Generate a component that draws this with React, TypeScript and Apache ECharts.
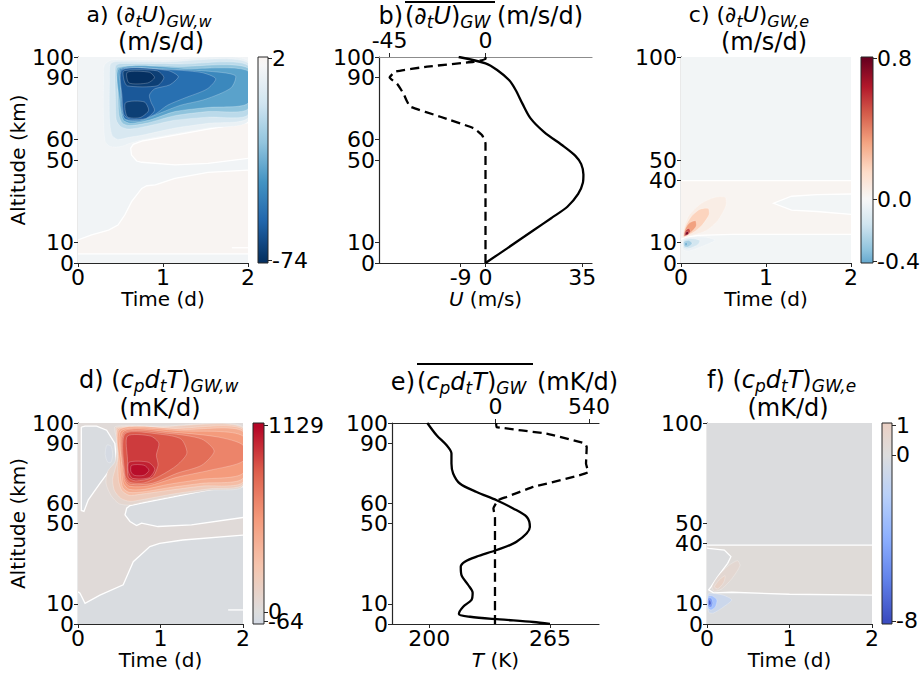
import React, { useEffect, useRef } from "react";
import * as echarts from "echarts";

type Pt = [number, number];
type Region = { v: number | null; pts: Pt[]; kind: "zero" | "level" | "none"; open?: boolean };

const FF = "DejaVu Sans";

// ---------- shared axes ----------
const TIME_RANGE = [0, 2];
const ALT_RANGE = [0, 100];
const TIME_TICKS = [0, 1, 2];
const ALT_TICKS_AB = [0, 10, 50, 60, 90, 100];
const ALT_LABELS_AB_OUTER = [0, 50, 60, 100];
const ALT_LABELS_AB_INNER = [10, 90];
const ALT_TICKS_CF = [0, 10, 40, 50, 100];
const ALT_LABELS_CF_OUTER = [0, 40, 50, 100];
const ALT_LABELS_CF_INNER = [10];

// ---------- panel b: profiles ----------
const B_U_ALT = [0, 7, 16, 22, 27.3, 33.5, 39, 43, 48, 52, 56.5, 63.7, 70.2, 77.5, 84, 88.8, 93.7, 96.9, 100];
const B_U = [0, 7.7, 17.5, 24, 29.6, 33.5, 35.2, 35.4, 34.6, 32.5, 28.4, 21.1, 16.3, 13.3, 10.9, 8.5, 4.2, 0, -9.7];
const B_DU_ALT = [0, 30, 58, 62, 65.4, 71, 75.9, 79, 82, 87, 90, 92.9, 95.3, 97.7, 99, 100];
const B_DU = [0, 0, 0, -1.6, -5.5, -21.2, -35.3, -37.1, -38.4, -41.5, -45, -42.3, -27.4, -5.5, 0, 0];
const B_U_RANGE = [-38.5, 38.5];
const B_DU_RANGE = [-50, 50];
const B_U_TICKS = [-9, 0, 35];
const B_DU_TICKS = [-45, 0];

// ---------- panel e: profiles ----------
const E_T_ALT = [0, 1, 2.3, 3.6, 5, 8.6, 12, 15.5, 19.4, 24.3, 28.5, 31, 33.5, 36.8, 40.9, 48.3, 53.3, 57.5, 61.6, 65.7, 69.9, 74.9, 79.8, 84.8, 88.9, 93.9, 100];
const E_T = [265, 256, 238, 222, 216, 218.3, 222.8, 223.4, 221, 217.4, 217, 219.2, 225.5, 236.3, 247, 254.2, 252.5, 245.2, 236.3, 225.5, 216.5, 212.9, 212, 212, 209.4, 204, 199];
const E_Q_ALT = [0, 30, 53, 57.5, 61.6, 63.2, 68.2, 75.6, 79.8, 88, 89.8, 94.7, 98, 100];
const E_Q = [-3, -3, -3, -12, 15, 64, 218, 536, 523, 527, 517, 295, 6, 4];
const E_T_RANGE = [180, 291.4];
const E_Q_RANGE = [-598, 598];
const E_T_TICKS = [200, 265];
const E_Q_TICKS = [0, 540];

// ---------- panel a: (dU/dt)_GW,w contour regions ----------
const A_BG = -2.5;
const A_POS = 1.5;
const A_PINK_HI: Pt[] = [[0.65, 57.6], [0.75, 59.2], [1.14, 62.1], [1.53, 65.0], [2.0, 68.1], [2.0, 50.8], [1.53, 48.4], [1.14, 47.6], [0.75, 48.9], [0.69, 49.5], [0.63, 52.4], [0.62, 55.7]];
const A_PINK_LO: Pt[] = [[0, 11.2], [0.16, 13.6], [0.36, 16], [0.47, 18.4], [0.55, 23.3], [0.63, 29.8], [0.75, 36.2], [0.81, 37.5], [0.91, 37.9], [1.14, 41.1], [1.53, 44], [2.0, 45.1], [2.0, 4.4], [0, 4.4]];
const A_SMALL: Pt[] = [[1.81, 7.4], [2.0, 7.4]];
const A_LEVELS = [-5, -12, -20, -30, -40, -48, -56, -63, -70, -70, -74];
const A_L0: Pt[] = [[0.31, 96], [0.4, 98.6], [1.0, 98.5], [2.0, 98.2], [2.0, 68.8], [1.53, 65.5], [1.14, 62.7], [0.75, 59.7], [0.62, 58.2], [0.5, 56.5], [0.38, 56.5], [0.32, 59], [0.3, 70], [0.3, 88]];
const A_L1: Pt[] = [[0.38, 96.5], [0.45, 97.8], [1.0, 97.6], [2.0, 97.2], [2.0, 70.5], [1.53, 67.8], [1.14, 65.5], [0.75, 62], [0.6, 61], [0.47, 60], [0.4, 62], [0.37, 70], [0.37, 88]];
const A_L2: Pt[] = [[0.44, 95.5], [0.5, 96.8], [1.2, 96.6], [2.0, 95.9], [2.0, 72], [1.53, 70.8], [1.14, 69.3], [0.8, 66.3], [0.6, 65], [0.5, 66.3], [0.45, 69.5], [0.44, 80]];
const A_L3: Pt[] = [[0.47, 95], [1.2, 95.4], [2.0, 94.6], [2.0, 74.8], [1.53, 73.5], [1.14, 71.5], [0.8, 67.8], [0.6, 66.7], [0.52, 68], [0.48, 72], [0.47, 85]];
const A_L4: Pt[] = [[0.49, 94.6], [1.3, 94.4], [2.0, 93.2], [2.0, 77.5], [1.53, 75.5], [1.14, 73.5], [0.85, 69.5], [0.62, 67.8], [0.53, 69.5], [0.49, 78]];
const A_L5: Pt[] = [[0.5, 94.3], [1.0, 94.2], [1.5, 93.2], [1.85, 91], [1.8, 85], [1.5, 79.5], [1.2, 76.5], [0.95, 72.5], [0.72, 68.8], [0.56, 69.5], [0.51, 74], [0.5, 85]];
const A_L6: Pt[] = [[0.51, 94], [1.0, 94], [1.45, 92.5], [1.62, 89.5], [1.52, 84.5], [1.25, 80], [1.05, 76.5], [0.9, 72], [0.7, 69.2], [0.55, 70], [0.52, 75], [0.51, 85]];
const A_L7: Pt[] = [[0.52, 93.7], [1.05, 93.5], [1.18, 90.5], [1.08, 86.5], [0.9, 84.5], [0.84, 81.5], [0.86, 78], [0.9, 74], [0.8, 70.2], [0.62, 69.8], [0.54, 72], [0.52, 80]];
const A_L8: Pt[] = [[0.54, 93.3], [0.93, 93.3], [1.01, 90], [0.93, 86], [0.58, 86], [0.54, 89]];
const A_L9: Pt[] = [[0.56, 77.8], [0.78, 78.2], [0.83, 74], [0.73, 70.6], [0.58, 71]];
const A_L10: Pt[] = [[0.58, 92.6], [0.84, 92.6], [0.9, 90], [0.82, 87.4], [0.6, 87.4]];

// ---------- panel c: (dU/dt)_GW,e ----------
const C_BG = -0.02;
const C_POS = 0.02;
const C_BAND: Pt[] = [[0, 40], [2, 40], [2, 13.9], [0.6, 13.9], [0.3, 13.5], [0.2, 13.4], [0.1, 12.8], [0.02, 11.8], [0, 11.5]];
const C_NEG_R: Pt[] = [[1.09, 29], [1.3, 32.4], [1.6, 33.2], [2.0, 33.5], [2.0, 23.6], [1.6, 25], [1.3, 25.7]];
const C_LEVELS = [0.06, 0.18, 0.33, 0.52, 0.75, -0.05, -0.15, -0.27, -0.38];
const C_R1: Pt[] = [[0.02, 12.5], [0.04, 18], [0.1, 23.5], [0.24, 29], [0.4, 31.9], [0.52, 31.9], [0.53, 28], [0.44, 21], [0.32, 16.3], [0.2, 14.2], [0.1, 13.2]];
const C_R2: Pt[] = [[0.03, 12.8], [0.05, 17.5], [0.12, 22.5], [0.22, 26], [0.32, 26.5], [0.33, 23.5], [0.25, 18.5], [0.15, 15], [0.08, 13.5]];
const C_R3: Pt[] = [[0.035, 13], [0.05, 16.5], [0.1, 19.5], [0.17, 20.5], [0.18, 18], [0.12, 15], [0.07, 13.5]];
const C_R4: Pt[] = [[0.04, 13.2], [0.055, 15.8], [0.09, 16.8], [0.11, 15.5], [0.08, 13.7]];
const C_R5: Pt[] = [[0.05, 13.6], [0.06, 15], [0.08, 15.3], [0.09, 14.5], [0.075, 13.8]];
const C_B1: Pt[] = [[0.02, 11.2], [0.025, 6.5], [0.08, 5.8], [0.2, 7.3], [0.4, 11], [0.3, 12.5], [0.15, 12.6], [0.06, 12.2]];
const C_B2: Pt[] = [[0.03, 10.7], [0.035, 7.3], [0.09, 7], [0.2, 9], [0.22, 11], [0.1, 11.9]];
const C_B3: Pt[] = [[0.035, 10.2], [0.04, 8], [0.08, 7.8], [0.13, 9.5], [0.09, 11]];
const C_B4: Pt[] = [[0.045, 9.6], [0.05, 8.4], [0.075, 8.6], [0.07, 9.9]];

// ---------- panel d: (cp dT/dt)_GW,w ----------
const D_BG = 30;
const D_NEG = -30;
const D_NEG_UL: Pt[] = [[0.04, 98], [0.085, 98.4], [0.226, 98.4], [0.347, 96.4], [0.447, 89.8], [0.467, 80.6], [0.387, 76.7], [0.266, 70], [0.125, 61.8], [0.072, 56], [0.04, 56.5]];
const D_ELL: Pt[] = [[0.35, 89], [0.4, 88.5], [0.42, 84.5], [0.4, 80.5], [0.36, 80.5], [0.33, 84.5]];
const D_PILL: Pt[] = [[0.63, 58.9], [0.77, 60.1], [1.17, 63.4], [1.58, 66.7], [2.0, 68.4], [2.0, 53], [1.375, 49.3], [0.97, 48.5], [0.77, 50.2], [0.71, 49], [0.63, 51], [0.57, 54.3], [0.59, 57.6]];
const D_NEG_LO: Pt[] = [[0, 16], [0.024, 15.3], [0.085, 10.3], [0.266, 14.4], [0.548, 19.5], [0.67, 31], [0.871, 38.5], [0.99, 40.1], [1.27, 41.8], [2.0, 44.2], [2.0, 0], [0, 0]];
const D_SMALL: Pt[] = [[1.82, 7], [2.0, 7]];
const D_LEVELS = [-64, 80, 200, 330, 450, 560, 670, 780, 870, 960, 1040, 1100];
const D_L0: Pt[] = [[0.45, 98.2], [1.0, 98.4], [2.0, 98], [2.0, 68.6], [1.6, 66.5], [1.17, 63.7], [0.77, 60.5], [0.63, 59.2], [0.5, 59.8], [0.4, 64], [0.34, 70], [0.36, 76], [0.45, 81], [0.47, 92]];
const D_L1: Pt[] = [[0.47, 97.8], [1.0, 98.1], [2.0, 97.6], [2.0, 69.5], [1.6, 67.3], [1.17, 64.8], [0.77, 61.8], [0.63, 61], [0.52, 62.5], [0.44, 66.5], [0.42, 72], [0.45, 77], [0.48, 82], [0.485, 92]];
const D_L2: Pt[] = [[0.49, 97.3], [1.2, 97.4], [2.0, 96.8], [2.0, 70.6], [1.5, 68.6], [1.1, 66.5], [0.75, 64.5], [0.62, 64], [0.53, 66.5], [0.49, 72], [0.485, 85]];
const D_L3: Pt[] = [[0.51, 97], [1.3, 96.8], [2.0, 95.8], [2.0, 72.5], [1.5, 70], [1.1, 67.8], [0.8, 65.8], [0.62, 65.5], [0.54, 68], [0.51, 78]];
const D_L4: Pt[] = [[0.53, 96.4], [1.3, 96], [2.0, 93.5], [2.0, 75], [1.5, 72], [1.1, 69.5], [0.8, 67], [0.62, 67], [0.55, 70], [0.53, 80]];
const D_L5: Pt[] = [[0.55, 95.7], [1.2, 95.2], [1.7, 93], [2.0, 89], [2.0, 81], [1.6, 76.5], [1.2, 73], [0.85, 68.7], [0.62, 68.6], [0.56, 72]];
const D_L6: Pt[] = [[0.56, 95], [1.1, 94.8], [1.5, 92], [1.65, 86], [1.5, 79], [1.2, 75], [0.9, 70], [0.63, 69.6], [0.565, 73]];
const D_L7: Pt[] = [[0.57, 94.6], [1.0, 94.4], [1.25, 92], [1.32, 85], [1.2, 79], [1.0, 73.8], [0.8, 70.2], [0.63, 70.5], [0.57, 74]];
const D_L8: Pt[] = [[0.6, 93.5], [0.88, 93.5], [0.98, 90], [0.95, 84], [0.97, 79], [0.9, 73], [0.7, 71.2], [0.61, 73], [0.6, 82]];
const D_L9: Pt[] = [[0.62, 80.5], [0.85, 80.5], [0.93, 77], [0.86, 72.8], [0.66, 72.5], [0.61, 76]];
const D_L10: Pt[] = [[0.65, 79], [0.8, 79], [0.86, 76.5], [0.8, 74], [0.68, 74], [0.64, 76]];

// ---------- panel f: (cp dT/dt)_GW,e ----------
const F_BG = -0.1;
const F_POS = 0.2;
const F_BAND: Pt[] = [[0, 39.2], [2, 39.2], [2, 14.4], [1.0, 14.8], [0.3, 15.8], [0.08, 15.5], [0.02, 17], [0.05, 18.6], [0.13, 23.6], [0.25, 30.2], [0.29, 33.5], [0.21, 36.8], [0.02, 37.6], [0, 37.8]];
const F_LEVELS = [0.5, 0.9, -1, -3, -5, -7];
const F_P1: Pt[] = [[0.06, 18.5], [0.14, 24], [0.26, 29], [0.37, 31.5], [0.4, 29], [0.3, 22.5], [0.18, 17.5], [0.09, 16.3]];
const F_P2: Pt[] = [[0.09, 18.5], [0.15, 22], [0.22, 24], [0.2, 20.5], [0.13, 17.5]];
const F_B1: Pt[] = [[0.015, 15], [0.08, 15.2], [0.2, 14.3], [0.3, 12], [0.2, 8.5], [0.08, 5.5], [0.02, 5.8]];
const F_B2: Pt[] = [[0.015, 13.8], [0.06, 14], [0.12, 12], [0.1, 8.5], [0.05, 7], [0.015, 7.8]];
const F_B3: Pt[] = [[0.015, 12.8], [0.05, 12.8], [0.07, 10.5], [0.05, 8.3], [0.015, 8.8]];
const F_B4: Pt[] = [[0.02, 11.8], [0.04, 11.8], [0.05, 10.2], [0.035, 9.2], [0.02, 9.8]];

// ---------- colorbars (fractional position -> value) ----------
const CB_A_POS = [0.011, 0.992]; const CB_A_VAL = [-74, 2]; const CB_A_LAB = ["-74", "2"];
const CB_C_POS = [0.008, 0.309, 0.992]; const CB_C_VAL = [-0.4, 0, 0.8]; const CB_C_LAB = ["-0.4", "0.0", "0.8"];
const CB_D_POS = [0.012, 0.06, 0.987]; const CB_D_VAL = [-64, 0, 1129]; const CB_D_LAB = ["-64", "0", "1129"];
const CB_F_POS = [0.016, 0.841, 0.987]; const CB_F_VAL = [-8, 0, 1]; const CB_F_LAB = ["-8", "0", "1"];

// ---------- colormaps ----------
const RDBU_R = [[5, 48, 97], [33, 102, 172], [67, 147, 195], [146, 197, 222], [209, 229, 240], [247, 247, 247], [253, 219, 199], [244, 165, 130], [214, 96, 77], [178, 24, 43], [103, 0, 31]];
const COOLWARM = [[59, 76, 192], [98, 130, 234], [141, 176, 254], [184, 208, 249], [221, 221, 221], [245, 196, 173], [244, 154, 123], [222, 96, 77], [180, 4, 38]];

function cmapColor(stops: number[][], f: number): string {
  const g = Number.isFinite(f) ? Math.max(0, Math.min(1, f)) : 0.5;
  const n = stops.length - 1;
  const x = g * n;
  const i = Math.min(n - 1, Math.floor(x));
  const u = x - i;
  const c = stops[i].map((a, k) => Math.round(a + (stops[i + 1][k] - a) * u));
  return `rgb(${c[0]},${c[1]},${c[2]})`;
}

function onBorder(p: Pt, q: Pt): boolean {
  if (p[0] === q[0] && (p[0] === TIME_RANGE[0] || p[0] === TIME_RANGE[1])) return true;
  if (p[1] === q[1] && (p[1] === ALT_RANGE[0] || p[1] === ALT_RANGE[1])) return true;
  return false;
}

function contourRuns(pts: Pt[]): Pt[][] {
  const n = pts.length;
  const ok = (i: number) => !onBorder(pts[i], pts[(i + 1) % n]);
  let start = -1;
  for (let i = 0; i < n; i++) if (!ok(i)) { start = (i + 1) % n; break; }
  if (start < 0) return [[...pts, pts[0]]];
  const runs: Pt[][] = [];
  let cur: Pt[] | null = null;
  for (let k = 0; k < n; k++) {
    const i = (start + k) % n;
    if (ok(i)) {
      if (!cur) { cur = [pts[i]]; runs.push(cur); }
      cur.push(pts[(i + 1) % n]);
    } else cur = null;
  }
  return runs;
}

const FULL: Pt[] = [[TIME_RANGE[0], ALT_RANGE[0]], [TIME_RANGE[1], ALT_RANGE[0]], [TIME_RANGE[1], ALT_RANGE[1]], [TIME_RANGE[0], ALT_RANGE[1]]];

function levelRegions(polys: Pt[][], levels: number[]): Region[] {
  return polys.map((p, i) => ({ v: levels[Math.min(i, levels.length - 1)], pts: p, kind: "level" as const }));
}

const A_REGIONS: Region[] = [
  { v: A_BG, pts: FULL, kind: "none" },
  { v: A_POS, pts: A_PINK_HI, kind: "zero" },
  { v: A_POS, pts: A_PINK_LO, kind: "zero" },
  { v: null, pts: A_SMALL, kind: "zero", open: true },
  ...levelRegions([A_L0, A_L1, A_L2, A_L3, A_L4, A_L5, A_L6, A_L7, A_L8, A_L9, A_L10], A_LEVELS),
];
const C_REGIONS: Region[] = [
  { v: C_BG, pts: FULL, kind: "none" },
  { v: C_POS, pts: C_BAND, kind: "zero" },
  { v: C_BG, pts: C_NEG_R, kind: "zero" },
  ...levelRegions([C_R1, C_R2, C_R3, C_R4, C_R5, C_B1, C_B2, C_B3, C_B4], C_LEVELS),
];
const D_REGIONS: Region[] = [
  { v: D_BG, pts: FULL, kind: "none" },
  { v: D_NEG, pts: D_NEG_UL, kind: "zero" },
  { v: D_NEG, pts: D_PILL, kind: "zero" },
  { v: D_NEG, pts: D_NEG_LO, kind: "zero" },
  { v: null, pts: D_SMALL, kind: "zero", open: true },
  ...levelRegions([D_ELL, D_L0, D_L1, D_L2, D_L3, D_L4, D_L5, D_L6, D_L7, D_L8, D_L9, D_L10], D_LEVELS),
];
const F_REGIONS: Region[] = [
  { v: F_BG, pts: FULL, kind: "none" },
  { v: F_POS, pts: F_BAND, kind: "zero" },
  ...levelRegions([F_P1, F_P2, F_B1, F_B2, F_B3, F_B4], F_LEVELS),
];

function regionSeries(xi: number, yi: number, regions: Region[], stops: number[][], vmax: number) {
  return {
    type: "custom",
    xAxisIndex: xi,
    yAxisIndex: yi,
    silent: true,
    clip: true,
    data: regions.map(() => [1, 50]),
    renderItem: (params: any, api: any) => {
      const r = regions[params.dataIndex];
      const children: any[] = [];
      if (r.v !== null && !r.open) {
        const style: any = { fill: cmapColor(stops, (r.v + vmax) / (2 * vmax)) };
        if (r.kind === "level") { style.stroke = "rgba(255,255,255,0.4)"; style.lineWidth = 0.6; }
        children.push({
          type: "polygon",
          shape: { points: r.pts.map((p) => api.coord(p)), smooth: r.kind === "level" ? 0.25 : 0 },
          style,
        });
      }
      if (r.kind === "zero") {
        const runs = r.open ? [r.pts] : contourRuns(r.pts);
        runs.forEach((run) =>
          children.push({ type: "polyline", shape: { points: run.map((p) => api.coord(p)) }, style: { stroke: "#ffffff", lineWidth: 1.3, fill: null } })
        );
      }
      return { type: "group", children };
    },
  };
}

function interp(f: number, pos: number[], val: number[]): number {
  let i = 0;
  if (f <= pos[0]) i = 0;
  else if (f >= pos[pos.length - 1]) i = pos.length - 2;
  else { while (i < pos.length - 2 && f > pos[i + 1]) i++; }
  const u = (f - pos[i]) / (pos[i + 1] - pos[i]);
  return val[i] + (val[i + 1] - val[i]) * u;
}

function cbSeries(xi: number, yi: number, pos: number[], val: number[], stops: number[][], vmax: number) {
  return {
    type: "custom",
    xAxisIndex: xi,
    yAxisIndex: yi,
    silent: true,
    data: [[0.5, 0.5]],
    renderItem: (_p: any, api: any) => {
      const p0 = api.coord([0, 0]);
      const p1 = api.coord([1, 1]);
      const gs: any[] = [];
      for (let k = 0; k <= 48; k++) {
        const f = k / 48;
        const v = interp(f, pos, val);
        gs.push({ offset: f, color: cmapColor(stops, (v + vmax) / (2 * vmax)) });
      }
      return {
        type: "rect",
        shape: { x: p0[0], y: p1[1], width: p1[0] - p0[0], height: p0[1] - p1[1] },
        style: { fill: new echarts.graphic.LinearGradient(0, 1, 0, 0, gs), stroke: "#262626", lineWidth: 1 },
      };
    },
  };
}

const SPINE = "#262626";
const TICK_FS = 22;
const NAME_FS = 20;
const lbl = (vals: number[], margin: number, extra: any = {}) => ({
  show: true, customValues: vals, fontSize: TICK_FS, fontFamily: FF, color: "#000", margin,
  hideOverlap: false, showMinLabel: true, showMaxLabel: true, ...extra,
});
const tick = (vals: number[], color = SPINE) => ({ show: true, customValues: vals, length: 4, lineStyle: { color, width: 1 } });
const line = (color = SPINE) => ({ show: true, onZero: false, lineStyle: { color, width: 1.2 } });

function timeX(grid: number) {
  return {
    type: "value", gridIndex: grid, min: TIME_RANGE[0], max: TIME_RANGE[1], position: "bottom",
    axisLine: line(), axisTick: tick(TIME_TICKS), axisLabel: lbl(TIME_TICKS, 3), splitLine: { show: false },
    name: "Time (d)", nameLocation: "middle", nameGap: 24,
    nameTextStyle: { fontSize: NAME_FS, fontFamily: FF, color: "#000" },
  };
}
// main altitude axis: spine, all ticks, outer labels (+ name)
function altY(grid: number, ticks: number[], labels: number[], named: boolean) {
  return {
    type: "value", gridIndex: grid, min: ALT_RANGE[0], max: ALT_RANGE[1], position: "left",
    axisLine: line(), axisTick: tick(ticks), axisLabel: lbl(labels, 4), splitLine: { show: false },
    ...(named
      ? { name: "Altitude (km)", nameLocation: "middle", nameGap: 45, nameRotate: 90, nameTextStyle: { fontSize: NAME_FS, fontFamily: FF, color: "#000" } }
      : {}),
  };
}
// companion altitude axis: only the remaining labels
function altYLabels(grid: number, labels: number[]) {
  return {
    type: "value", gridIndex: grid, min: ALT_RANGE[0], max: ALT_RANGE[1], position: "left",
    axisLine: { show: false, onZero: false }, axisTick: { show: false }, axisLabel: lbl(labels, 4), splitLine: { show: false },
  };
}
function hiddenX(grid: number) {
  return { type: "value", gridIndex: grid, min: 0, max: 1, show: false };
}
function cbY(grid: number, pos: number[], labels: string[], tickPos: number[], showTicks: boolean) {
  return {
    type: "value", gridIndex: grid, min: 0, max: 1, position: "right",
    axisLine: { show: false, onZero: false },
    axisTick: showTicks ? tick(tickPos) : { show: false },
    splitLine: { show: false },
    axisLabel: lbl(pos, 4, {
      formatter: (v: number) => {
        let b = 0;
        pos.forEach((p, i) => { if (Math.abs(p - v) < Math.abs(pos[b] - v)) b = i; });
        return labels[b];
      },
    }),
  };
}

const RICH_T: any = {
  n: { fontSize: 24, fontFamily: FF, lineHeight: 26, verticalAlign: "top", fill: "#000" },
  i: { fontSize: 24, fontFamily: FF, fontStyle: "italic", lineHeight: 26, verticalAlign: "top", fill: "#000" },
  s: { fontSize: 17, fontFamily: FF, fontStyle: "italic", lineHeight: 13, verticalAlign: "bottom", fill: "#000" },
};
const RICH_TS: any = {
  n: { fontSize: 22, fontFamily: FF, lineHeight: 26, verticalAlign: "top", fill: "#000" },
  i: { fontSize: 22, fontFamily: FF, fontStyle: "italic", lineHeight: 26, verticalAlign: "top", fill: "#000" },
  s: { fontSize: 16, fontFamily: FF, fontStyle: "italic", lineHeight: 13, verticalAlign: "bottom", fill: "#000" },
};
const title = (x: number, y: number, text: string, align = "center", rich: any = RICH_T) => ({
  type: "text", x, y, silent: true,
  style: { text, rich, align, verticalAlign: "middle", fontFamily: FF, fontSize: 24, fill: "#000" },
});

export default function App() {
  const ref = useRef<HTMLDivElement>(null);
  useEffect(() => {
    document.body.style.margin = "0";
    const chart = echarts.init(ref.current!, undefined, { renderer: "svg" });
    const grids = [
      { left: 78, top: 57, width: 170, height: 206 },
      { left: 258, top: 57, width: 10, height: 206 },
      { left: 379, top: 57, width: 213, height: 206 },
      { left: 681, top: 57, width: 170, height: 206 },
      { left: 861, top: 57, width: 12, height: 206 },
      { left: 78, top: 423, width: 165, height: 201 },
      { left: 253, top: 423, width: 11, height: 201 },
      { left: 392, top: 423, width: 207, height: 201 },
      { left: 707, top: 423, width: 165, height: 201 },
      { left: 882, top: 423, width: 10, height: 201 },
    ].map((g) => ({ ...g, containLabel: false, outerBoundsMode: "none" }));

    const nameRich = {
      i: { fontSize: NAME_FS, fontFamily: FF, fontStyle: "italic", color: "#000" },
      n: { fontSize: NAME_FS, fontFamily: FF, color: "#000" },
    };

    const xAxis: any[] = [
      timeX(0),
      hiddenX(1),
      {
        type: "value", gridIndex: 2, min: B_U_RANGE[0], max: B_U_RANGE[1], position: "bottom",
        axisLine: line(), axisTick: tick(B_U_TICKS), axisLabel: lbl(B_U_TICKS, 3), splitLine: { show: false },
        name: "{i|U}{n| (m/s)}", nameLocation: "middle", nameGap: 24, nameTextStyle: { rich: nameRich },
      },
      {
        type: "value", gridIndex: 2, min: B_DU_RANGE[0], max: B_DU_RANGE[1], position: "top",
        axisLine: line("#8c8c8c"), axisTick: tick(B_DU_TICKS), axisLabel: lbl(B_DU_TICKS, 6), splitLine: { show: false },
      },
      timeX(3),
      hiddenX(4),
      timeX(5),
      hiddenX(6),
      {
        type: "value", gridIndex: 7, min: E_T_RANGE[0], max: E_T_RANGE[1], position: "bottom",
        axisLine: line(), axisTick: tick(E_T_TICKS), axisLabel: lbl(E_T_TICKS, 3), splitLine: { show: false },
        name: "{i|T}{n| (K)}", nameLocation: "middle", nameGap: 24, nameTextStyle: { rich: nameRich },
      },
      {
        type: "value", gridIndex: 7, min: E_Q_RANGE[0], max: E_Q_RANGE[1], position: "top",
        axisLine: line(), axisTick: tick(E_Q_TICKS), axisLabel: lbl(E_Q_TICKS, 6), splitLine: { show: false },
      },
      timeX(8),
      hiddenX(9),
    ];
    const yAxis: any[] = [
      altY(0, ALT_TICKS_AB, ALT_LABELS_AB_OUTER, true), // 0
      altYLabels(0, ALT_LABELS_AB_INNER), // 1
      cbY(1, CB_A_POS, CB_A_LAB, CB_A_POS, true), // 2
      altY(2, ALT_TICKS_AB, ALT_LABELS_AB_OUTER, false), // 3
      altYLabels(2, ALT_LABELS_AB_INNER), // 4
      altY(3, ALT_TICKS_CF, ALT_LABELS_CF_OUTER, false), // 5
      altYLabels(3, ALT_LABELS_CF_INNER), // 6
      cbY(4, CB_C_POS, CB_C_LAB, CB_C_POS, true), // 7
      altY(5, ALT_TICKS_AB, ALT_LABELS_AB_OUTER, true), // 8
      altYLabels(5, ALT_LABELS_AB_INNER), // 9
      cbY(6, [CB_D_POS[0], CB_D_POS[2]], [CB_D_LAB[0], CB_D_LAB[2]], CB_D_POS, true), // 10
      cbY(6, [CB_D_POS[1]], [CB_D_LAB[1]], CB_D_POS, false), // 11
      altY(7, ALT_TICKS_AB, ALT_LABELS_AB_OUTER, false), // 12
      altYLabels(7, ALT_LABELS_AB_INNER), // 13
      altY(8, ALT_TICKS_CF, ALT_LABELS_CF_OUTER, false), // 14
      altYLabels(8, ALT_LABELS_CF_INNER), // 15
      cbY(9, CB_F_POS, CB_F_LAB, CB_F_POS, true), // 16
    ];

    const profile = (xi: number, yi: number, xs: number[], alts: number[], dashed: boolean, smooth: number) => ({
      type: "line", xAxisIndex: xi, yAxisIndex: yi, silent: true, showSymbol: false, symbol: "none",
      smooth, data: xs.map((x, i) => [x, alts[i]]),
      lineStyle: { color: "#000", width: 2.3, type: dashed ? [9, 5] : "solid" },
    });

    const series: any[] = [
      regionSeries(0, 0, A_REGIONS, RDBU_R, 74),
      cbSeries(1, 2, CB_A_POS, CB_A_VAL, RDBU_R, 74),
      profile(2, 3, B_U, B_U_ALT, false, 0.3),
      profile(3, 3, B_DU, B_DU_ALT, true, 0.15),
      regionSeries(4, 5, C_REGIONS, RDBU_R, 0.8),
      cbSeries(5, 7, CB_C_POS, CB_C_VAL, RDBU_R, 0.8),
      regionSeries(6, 8, D_REGIONS, COOLWARM, 1129),
      cbSeries(7, 10, CB_D_POS, CB_D_VAL, COOLWARM, 1129),
      profile(8, 12, E_T, E_T_ALT, false, 0.3),
      profile(9, 12, E_Q, E_Q_ALT, true, 0.1),
      regionSeries(10, 14, F_REGIONS, COOLWARM, 8),
      cbSeries(11, 16, CB_F_POS, CB_F_VAL, COOLWARM, 8),
    ];

    const graphic = {
      elements: [
        title(149, 16, "{n|a) (∂}{s|t}{i|U}{n|)}{s|GW,w}", "center", RICH_TS),
        title(161, 43, "{n|(m/s/d)}"),
        title(403, 17, "{n|b)}", "right"),
        title(405, 17, "{n|(∂}{s|t}{i|U}{n|)}{s|GW}", "left"),
        title(497, 17, "{n|(m/s/d)}", "left"),
        { type: "line", silent: true, shape: { x1: 405, y1: 2, x2: 495, y2: 2 }, style: { stroke: "#000", lineWidth: 2 } },
        title(749, 16, "{n|c) (∂}{s|t}{i|U}{n|)}{s|GW,e}", "center", RICH_TS),
        title(764, 43, "{n|(m/s/d)}"),
        title(79, 381, "{n|d) (}{i|c}{s|p}{i|d}{s|t}{i|T}{n|)}{s|GW,w}", "left"),
        title(160, 409, "{n|(mK/d)}"),
        title(415, 383, "{n|e)}", "right"),
        title(417, 383, "{n|(}{i|c}{s|p}{i|d}{s|t}{i|T}{n|)}{s|GW}", "left"),
        title(537, 383, "{n|(mK/d)}", "left"),
        { type: "line", silent: true, shape: { x1: 417, y1: 364, x2: 533, y2: 364 }, style: { stroke: "#000", lineWidth: 2 } },
        title(707, 381, "{n|f) (}{i|c}{s|p}{i|d}{s|t}{i|T}{n|)}{s|GW,e}", "left"),
        title(788, 409, "{n|(mK/d)}"),
      ],
    };

    chart.setOption({
      animation: false,
      backgroundColor: "#ffffff",
      textStyle: { fontFamily: FF },
      grid: grids,
      xAxis,
      yAxis,
      series,
      graphic,
    });
    return () => chart.dispose();
  }, []);
  return <div ref={ref} style={{ width: 921, height: 679 }} />;
}
